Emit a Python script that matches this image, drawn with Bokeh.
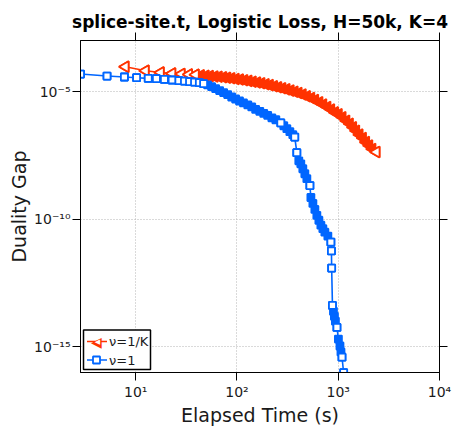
from bokeh.plotting import figure
from bokeh.models import (LogAxis, FixedTicker, CustomJSTickFormatter, BoxAnnotation,
                          Range1d, ColumnDataSource, CDSView, IndexFilter, Label)
from bokeh.embed import file_html
from bokeh.resources import INLINE

# ---------------- data ----------------
title_text = "splice-site.t, Logistic Loss, H=50k, K=4"
x_label = "Elapsed Time (s)"
y_label = "Duality Gap"
series_labels = ["\u03bd=1/K", "\u03bd=1"]

x_ticks = [10, 100, 1000, 10000]
x_tick_labels = ["10\u00b9", "10\u00b2", "10\u00b3", "10\u2074"]
y_ticks = [1e-15, 1e-10, 1e-5]
y_tick_labels = ["10\u207b\u00b9\u2075", "10\u207b\u00b9\u2070", "10\u207b\u2075"]

# v = 1/K  (red, left-pointing triangles)
red_t = [7.91, 12.5, 17.6, 22.9, 28.3, 33.5, 39.0, 44, 49, 54, 60, 66, 73, 80, 88, 97,
         107, 118, 130, 143, 158, 174, 192, 211, 232, 255, 280, 308, 338, 370, 405, 445,
         490, 540, 590, 650, 710, 780, 850, 930, 1010, 1100, 1200, 1300, 1400, 1500,
         1620, 1750, 1880, 2020, 2170, 2380]
red_gap = [9.31e-5, 6.52e-5, 5.60e-5, 5.12e-5, 4.85e-5, 4.69e-5, 4.56e-5, 4.36e-5, 4.17e-5,
           4.06e-5, 3.92e-5, 3.81e-5, 3.65e-5, 3.49e-5, 3.31e-5, 3.13e-5, 2.97e-5, 2.79e-5,
           2.62e-5, 2.44e-5, 2.27e-5, 2.12e-5, 1.95e-5, 1.79e-5, 1.63e-5, 1.48e-5, 1.34e-5,
           1.22e-5, 1.09e-5, 9.8e-6, 8.75e-6, 7.65e-6, 6.58e-6, 5.60e-6, 4.69e-6, 3.81e-6,
           3.13e-6, 2.51e-6, 2.00e-6, 1.53e-6, 1.29e-6, 9.8e-7, 7.2e-7, 5.5e-7, 4.03e-7,
           2.94e-7, 2.06e-7, 1.51e-7, 1.05e-7, 7.7e-8, 5.65e-8, 4.32e-8]
red_open = [0, 1, 2, 3, 4, 5, 6, 51]

# v = 1  (blue, squares)
blue_t = [2.85, 5.21, 7.73, 10.2, 13.3, 16.0, 19.2, 22.9, 26.7, 30.3, 34.0, 38.1, 42.5, 46.8,
          51.3, 56.2, 61.5, 67.4, 73.8, 80.9, 88.7, 97.0, 106, 116, 128, 140, 153, 168, 184,
          201, 221, 242, 271, 290, 311, 333, 356, 372, 390, 408, 427, 447, 468, 490, 525,
          537, 562, 588, 615, 644, 674, 705, 738, 790, 846, 857, 861, 877, 897, 917, 938,
          971, 1004, 1040, 1064, 1089, 1131]
blue_gap = [4.85e-5, 4.06e-5, 3.72e-5, 3.49e-5, 3.28e-5, 3.19e-5, 3.00e-5, 2.84e-5, 2.67e-5,
            2.55e-5, 2.44e-5, 2.34e-5, 2.23e-5, 2.04e-5, 1.82e-5, 1.56e-5, 1.31e-5, 1.09e-5,
            9.15e-6, 7.65e-6, 6.12e-6, 5.12e-6, 4.28e-6, 3.58e-6, 3.00e-6, 2.51e-6, 2.00e-6,
            1.68e-6, 1.40e-6, 1.17e-6, 9.4e-7, 7.9e-7, 5.9e-7, 4.6e-7, 3.52e-7, 2.69e-7,
            2.06e-7, 1.65e-7, 4.06e-8, 1.94e-8, 1.48e-8, 9.5e-9, 6.07e-9, 3.88e-9, 2.08e-9,
            7.13e-10, 4.17e-10, 2.44e-10, 1.43e-10, 9.15e-11, 5.85e-11, 4.28e-11, 3.13e-11,
            2.19e-11, 1.28e-11, 5.75e-12, 1.23e-12, 4.25e-14, 2.48e-14, 1.59e-14, 1.02e-14,
            5.81e-15, 2.04e-15, 1.09e-15, 6.4e-16, 3.99e-16, 9.8e-17]
blue_open = [0, 1, 2, 3, 4, 5, 6, 7, 8, 9, 10, 11, 12, 13, 32, 37, 38, 44, 54, 55, 56, 57,
             61, 65, 66]

x_min, x_max = 2.85, 1e4
y_min, y_max = 1e-16, 1e-3

RED = "#ff3300"
BLUE = "#0066ff"
FONT = "DejaVu Sans"
TXT = "#1a1a1a"

p = figure(width=454, height=428, x_axis_type="log", y_axis_type="log",
           x_range=Range1d(x_min, x_max), y_range=Range1d(y_min, y_max),
           output_backend="svg", toolbar_location=None, title=title_text,
           min_border_left=80, min_border_right=15, min_border_top=40, min_border_bottom=54)
p.background_fill_color = "white"
p.border_fill_color = "white"
p.outline_line_color = "black"

p.title.align = "center"
p.title.text_font = FONT
p.title.text_font_size = "17px"
p.title.text_font_style = "bold"
p.title.text_color = "black"
p.title.standoff = 1


def tick_formatter(vals, labels):
    return CustomJSTickFormatter(args=dict(tick_vals=vals, tick_labels=labels), code="""
        for (let i = 0; i < tick_vals.length; i++) {
            if (Math.abs(Math.log10(tick_vals[i]) - Math.log10(tick)) < 1e-6) { return tick_labels[i]; }
        }
        return "";
    """)


def style_axis(ax, vals, labels, show):
    ax.ticker = FixedTicker(ticks=vals, minor_ticks=[])
    ax.major_tick_in = 0
    ax.major_tick_out = 8
    ax.minor_tick_line_color = None
    ax.axis_line_color = "black"
    ax.major_tick_line_color = "black"
    if show:
        ax.formatter = tick_formatter(vals, labels)
        ax.major_label_text_font = FONT
        ax.major_label_text_font_size = "14px"
        ax.major_label_text_color = TXT
    else:
        ax.formatter = CustomJSTickFormatter(code="return '';")
        ax.major_label_text_font_size = "0px"
        ax.major_label_standoff = 0


style_axis(p.xaxis[0], x_ticks, x_tick_labels, True)
style_axis(p.yaxis[0], y_ticks, y_tick_labels, True)
p.xaxis[0].major_label_standoff = 3
p.yaxis[0].major_label_standoff = 2
p.xaxis[0].axis_label = x_label
p.yaxis[0].axis_label = y_label
for ax in (p.xaxis[0], p.yaxis[0]):
    ax.axis_label_text_font = FONT
    ax.axis_label_text_font_size = "19px"
    ax.axis_label_text_font_style = "normal"
    ax.axis_label_text_color = TXT
    ax.axis_label_standoff = 1

top_axis = LogAxis()
right_axis = LogAxis()
style_axis(top_axis, x_ticks, x_tick_labels, False)
style_axis(right_axis, y_ticks, y_tick_labels, False)
p.add_layout(top_axis, "above")
p.add_layout(right_axis, "right")

for g in (p.xgrid[0], p.ygrid[0]):
    g.grid_line_color = "#b5b5b5"
    g.grid_line_dash = "1 2"
    g.grid_line_width = 1
p.xgrid[0].ticker = FixedTicker(ticks=x_ticks)
p.ygrid[0].ticker = FixedTicker(ticks=y_ticks)

red_src = ColumnDataSource(dict(t=red_t, gap=red_gap))
blue_src = ColumnDataSource(dict(t=blue_t, gap=blue_gap))

# red series
r_line = p.line("t", "gap", source=red_src, line_color=RED, line_width=1.6)
r_solid = p.scatter("t", "gap", source=red_src, marker="triangle", angle=1.5708, size=11,
                    line_color=RED, fill_color=RED, line_width=1.8)
r_open = p.scatter("t", "gap", source=red_src, view=CDSView(filter=IndexFilter(red_open)),
                   marker="triangle", angle=1.5708, size=11,
                   line_color=RED, fill_color="white", line_width=1.8)

# blue series
b_line = p.line("t", "gap", source=blue_src, line_color=BLUE, line_width=1.6)
b_solid = p.scatter("t", "gap", source=blue_src, marker="square", size=7,
                    line_color=BLUE, fill_color=BLUE, line_width=1.8)
b_open = p.scatter("t", "gap", source=blue_src, view=CDSView(filter=IndexFilter(blue_open)),
                   marker="square", size=7, line_color=BLUE, fill_color="white", line_width=1.8)

# ---- legend, built from annotations (screen units, relative to the plot frame) ----
def sbox(left, right, bottom, top, **kw):
    return BoxAnnotation(left=left, right=right, bottom=bottom, top=top,
                         left_units="screen", right_units="screen",
                         bottom_units="screen", top_units="screen", **kw)


row_y = [31, 12.5]
p.add_layout(sbox(3, 70, 3, 42.5, fill_color="white", fill_alpha=1.0,
                  line_color="black", line_alpha=1.0, line_width=1.5))
# row 1: red line + left-pointing open triangle
p.add_layout(sbox(6.5, 26.5, row_y[0] - 0.8, row_y[0] + 0.8, fill_color=RED, fill_alpha=1.0,
                  line_color=None))
p.add_layout(Label(x=16, y=row_y[0], x_units="screen", y_units="screen", text="\u25c0",
                   text_color=RED, text_font=FONT, text_font_size="14px",
                   text_align="center", text_baseline="middle"))
p.add_layout(Label(x=17, y=row_y[0], x_units="screen", y_units="screen", text="\u25c0",
                   text_color="white", text_font=FONT, text_font_size="7px",
                   text_align="center", text_baseline="middle"))
# row 2: blue line + open square
p.add_layout(sbox(6.5, 26.5, row_y[1] - 0.8, row_y[1] + 0.8, fill_color=BLUE, fill_alpha=1.0,
                  line_color=None))
p.add_layout(sbox(12.5, 19.5, row_y[1] - 3.5, row_y[1] + 3.5, fill_color="white",
                  fill_alpha=1.0, line_color=BLUE, line_alpha=1.0, line_width=1.8))
for i, lab in enumerate(series_labels):
    p.add_layout(Label(x=28.5, y=row_y[i], x_units="screen", y_units="screen", text=lab,
                       text_color=TXT, text_font=FONT, text_font_size="13px",
                       text_align="left", text_baseline="middle"))

open("out.html", "w").write(file_html(p, INLINE))
